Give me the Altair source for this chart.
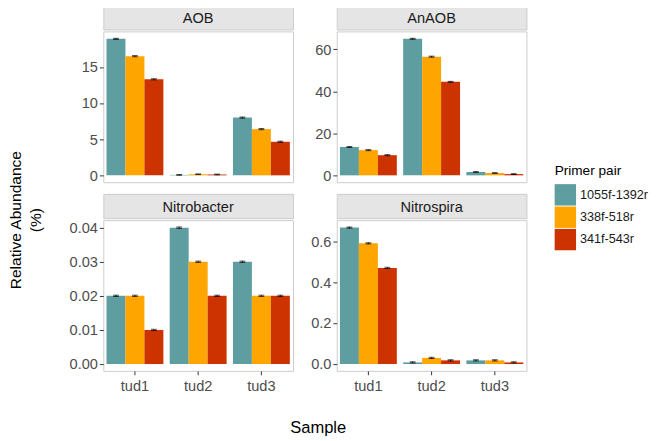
import altair as alt
import pandas as pd

samples = ["tud1", "tud2", "tud3"]
primers = ["1055f-1392r", "338f-518r", "341f-543r"]
colors = ["#5F9EA0", "#FFA500", "#CC3300"]

groups = ["AOB", "AnAOB", "Nitrobacter", "Nitrospira"]
# values ordered sample-major: tud1(p1,p2,p3), tud2(...), tud3(...)
aob = [18.9, 16.5, 13.3, 0.06, 0.15, 0.12, 8.0, 6.4, 4.65]
aob_sd = [0.08, 0.08, 0.08, 0.05, 0.05, 0.05, 0.08, 0.08, 0.08]
anaob = [13.5, 12.0, 9.6, 65.0, 56.5, 44.5, 1.6, 1.1, 0.6]
anaob_sd = [0.25, 0.25, 0.25, 0.25, 0.25, 0.25, 0.2, 0.2, 0.2]
nitrobacter = [0.02, 0.02, 0.01, 0.04, 0.03, 0.02, 0.03, 0.02, 0.02]
nitrobacter_sd = [0.0002] * 9
nitrospira = [0.667, 0.59, 0.47, 0.008, 0.03, 0.018, 0.018, 0.018, 0.008]
nitrospira_sd = [0.003] * 9

tick_values = {
    "AOB": [0, 5, 10, 15],
    "AnAOB": [0, 20, 40, 60],
    "Nitrobacter": [0.0, 0.01, 0.02, 0.03, 0.04],
    "Nitrospira": [0.0, 0.2, 0.4, 0.6],
}
tick_format = {"AOB": "d", "AnAOB": "d", "Nitrobacter": ".2f", "Nitrospira": ".1f"}
series = {
    "AOB": (aob, aob_sd),
    "AnAOB": (anaob, anaob_sd),
    "Nitrobacter": (nitrobacter, nitrobacter_sd),
    "Nitrospira": (nitrospira, nitrospira_sd),
}

PW, PH, SH = 195, 155, 25

color_scale = alt.Scale(domain=primers, range=colors)


def panel(g, bottom):
    vals, sds = series[g]
    rows = []
    i = 0
    for s in samples:
        for p in primers:
            rows.append({"Sample": s, "Primer pair": p, "value": vals[i],
                         "lo": vals[i] - sds[i], "hi": vals[i] + sds[i]})
            i += 1
    df = pd.DataFrame(rows)
    top = max(r["hi"] for r in rows)
    ydom = [-0.05 * top, 1.05 * top]

    xaxis = alt.Axis(title=None, labelAngle=0, labelFontSize=15, labelColor="#4D4D4D",
                     tickColor="#333333", tickSize=4, domain=False, labelPadding=4) if bottom else None
    x = alt.X("Sample:N", sort=samples,
              scale=alt.Scale(paddingInner=0.1, paddingOuter=0.05), axis=xaxis)
    xo = alt.XOffset("Primer pair:N", sort=primers, scale=alt.Scale(paddingInner=0, paddingOuter=0))
    yscale = alt.Scale(domain=ydom, nice=False, zero=False)
    yaxis = alt.Axis(title=None, values=tick_values[g], format=tick_format[g], labelFontSize=15,
                     labelColor="#4D4D4D", tickColor="#333333", tickSize=4, grid=False,
                     domain=False, labelPadding=2, labelOverlap=False, labelFlush=False)

    base = alt.Chart(df)
    bars = base.mark_bar().encode(
        x=x, xOffset=xo,
        y=alt.Y("value:Q", scale=yscale, axis=yaxis, stack=None),
        color=alt.Color("Primer pair:N", scale=color_scale, sort=primers,
                        legend=alt.Legend(title="Primer pair")),
    )
    err = base.mark_rule(color="black", strokeWidth=1).encode(
        x=x, xOffset=xo, y=alt.Y("lo:Q", scale=yscale, axis=yaxis), y2="hi:Q")
    cap_lo = base.mark_tick(color="black", size=6, thickness=1, orient="horizontal").encode(
        x=x, xOffset=xo, y=alt.Y("lo:Q", scale=yscale, axis=yaxis))
    cap_hi = base.mark_tick(color="black", size=6, thickness=1, orient="horizontal").encode(
        x=x, xOffset=xo, y=alt.Y("hi:Q", scale=yscale, axis=yaxis))
    plot = alt.layer(bars, err, cap_lo, cap_hi).properties(
        width=PW, height=PH, view=alt.ViewBackground(stroke="#CCCCCC", fill="white"))

    strip = alt.Chart(pd.DataFrame({"g": [g]})).mark_text(
        fontSize=15, color="#1A1A1A", font="Liberation Sans"
    ).encode(text="g:N", x=alt.value(PW / 2), y=alt.value(SH / 2 + 1)).properties(
        width=PW, height=SH, view=alt.ViewBackground(stroke="#CCCCCC", fill="#E5E5E5"))
    return alt.vconcat(strip, plot, spacing=0)


col1 = alt.vconcat(panel("AOB", False), panel("Nitrobacter", True), spacing=9)
col2 = alt.vconcat(panel("AnAOB", False), panel("Nitrospira", True), spacing=9)

inner = alt.hconcat(col1, col2, spacing=16).properties(
    title=alt.TitleParams("Sample", orient="bottom", anchor="middle", fontSize=17,
                          fontWeight="normal", color="#000000", offset=27, dx=21,
                          font="Liberation Sans"))

chart = alt.vconcat(inner).properties(
    title=alt.TitleParams(["Relative Abundance", "(%)"], orient="left", anchor="middle",
                          fontSize=16, fontWeight="normal", color="#000000", offset=25,
                          lineHeight=21, font="Liberation Sans"),
    padding={"left": 0, "top": -10, "right": 0, "bottom": 0},
).configure(font="Liberation Sans").configure_legend(
    orient="none", legendX=464, legendY=164,
    titleFontSize=14, titleFontWeight="normal", titleColor="#000000",
    labelFontSize=13, labelColor="#1A1A1A",
    symbolType="square", symbolSize=484, symbolStrokeWidth=0, symbolOpacity=1,
    rowPadding=1, titlePadding=6,
).configure_concat(spacing=0)

chart.save("out.html", embed_options={"renderer": "svg", "actions": False})
